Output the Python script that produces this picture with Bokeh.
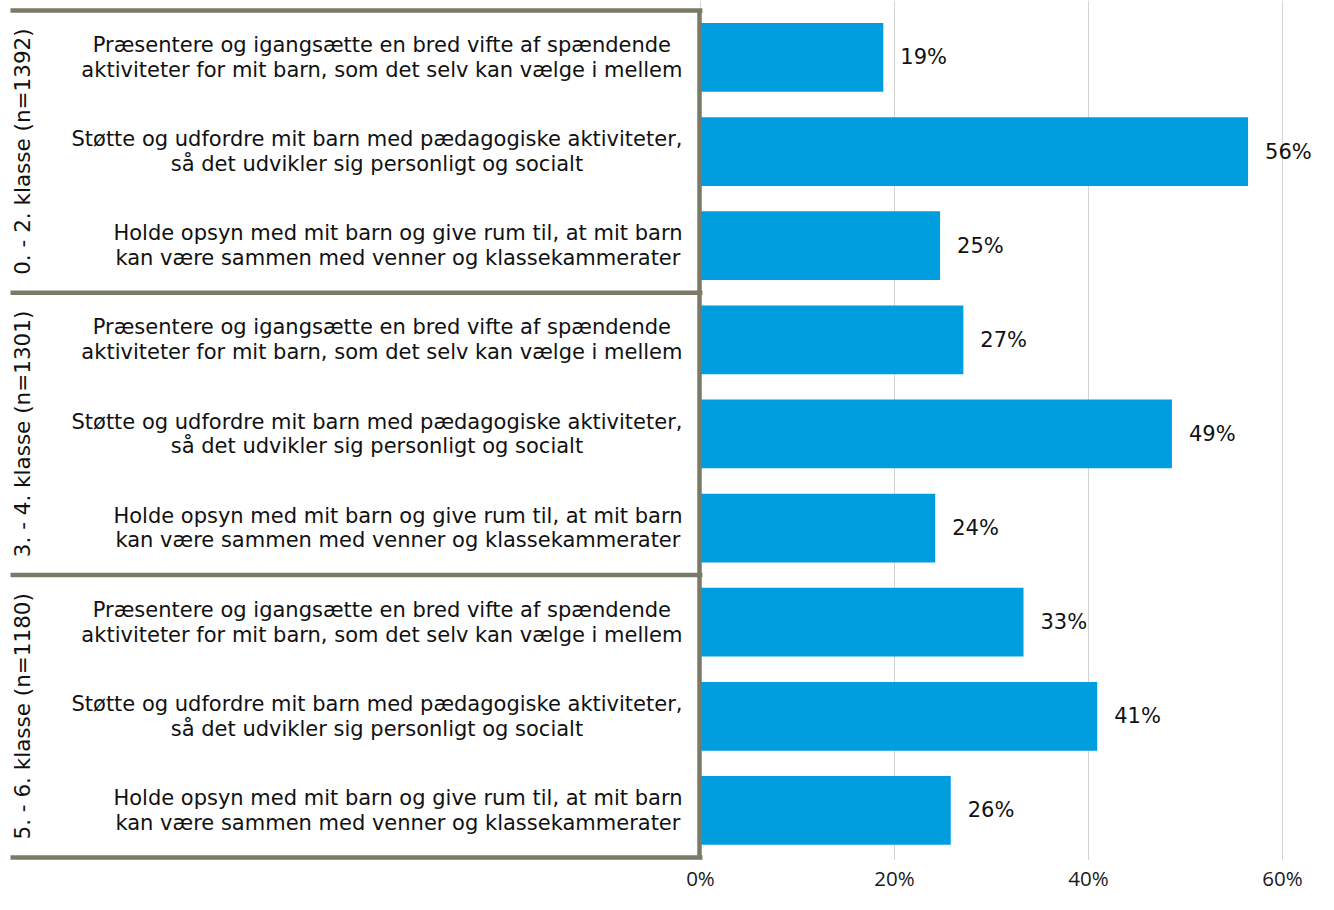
import numpy as np
from bokeh.plotting import figure
from bokeh.models import ColumnDataSource, Range1d, FixedTicker, CustomJSTickFormatter
from bokeh.core.properties import value
from bokeh.embed import file_html
from bokeh.resources import INLINE

groups = ["0. - 2. klasse (n=1392)", "3. - 4. klasse (n=1301)", "5. - 6. klasse (n=1180)"]
items = [
    "Præsentere og igangsætte en bred vifte af spændende\naktiviteter for mit barn, som det selv kan vælge i mellem",
    "Støtte og udfordre mit barn med pædagogiske aktiviteter,\nså det udvikler sig personligt og socialt",
    "Holde opsyn med mit barn og give rum til, at mit barn\nkan være sammen med venner og klassekammerater",
]
values_g1 = [18.85, 56.45, 24.7]
values_g2 = [27.1, 48.6, 24.2]
values_g3 = [33.3, 40.9, 25.8]
ticks = [0, 20, 40, 60]

vals = values_g1 + values_g2 + values_g3
labels = [f"{round(v)}%" for v in vals]
cats = items * 3
ypos = np.arange(len(vals))

BLUE = "#009EDF"
BOX = "#7B7A68"
FONT = "DejaVu Sans"

p = figure(width=1318, height=894, output_backend="svg", toolbar_location=None,
           x_range=Range1d(-72.16, 63.71), y_range=Range1d(8.532, -0.605),
           min_border_left=0, min_border_right=0, min_border_top=0, min_border_bottom=28)
p.outline_line_color = None
p.background_fill_color = "white"
p.border_fill_color = "white"

# grid
p.xgrid.ticker = FixedTicker(ticks=ticks)
p.xgrid.grid_line_color = "#D4D4D4"
p.xgrid.grid_line_width = 1
p.ygrid.grid_line_color = None

# axes
p.yaxis.visible = False
p.xaxis.ticker = FixedTicker(ticks=ticks)
p.xaxis.formatter = CustomJSTickFormatter(code="return tick + '%';")
p.xaxis.axis_line_color = None
p.xaxis.major_tick_line_color = None
p.xaxis.minor_tick_line_color = None
p.xaxis.major_tick_out = 0
p.xaxis.major_tick_in = 0
p.xaxis.major_label_text_font = "Open Sans"
p.xaxis.major_label_text_font_size = "20.5px"
p.xaxis.major_label_text_color = "#1a1a1a"
p.xaxis.major_label_standoff = 3

src = ColumnDataSource(dict(y=ypos, v=vals, lab=labels, cat=cats))

p.hbar(y="y", left=0, right="v", height=0.73, source=src, fill_color=BLUE, line_color=None)

p.text(x="v", y="y", text="lab", source=src, x_offset=17, text_align="left",
       text_baseline="middle", text_font=value(FONT), text_font_size="21px", text_color="#111111")

p.text(x=0, y="y", text="cat", source=src, x_offset=-18, anchor="center_right",
       text_align="center", text_baseline="middle", text_line_height=1.03,
       text_font=value(FONT), text_font_size="21px", text_color="#111111")

gsrc = ColumnDataSource(dict(y=[1, 4, 7], g=groups))
p.text(x=0, y="y", text="g", source=gsrc, x_offset=-678, angle=np.pi / 2,
       text_align="center", text_baseline="middle",
       text_font=value(FONT), text_font_size="21.5px", text_color="#111111")

# box lines
bounds = [-0.5, 2.5, 5.5, 8.5]
p.segment(x0=-71.13, x1=0.2, y0=bounds, y1=bounds, line_color=BOX, line_width=4.5)
p.segment(x0=[-0.1], x1=[-0.1], y0=[-0.5], y1=[8.5], line_color=BOX, line_width=4.5)

open("out.html", "w").write(file_html(p, INLINE))
